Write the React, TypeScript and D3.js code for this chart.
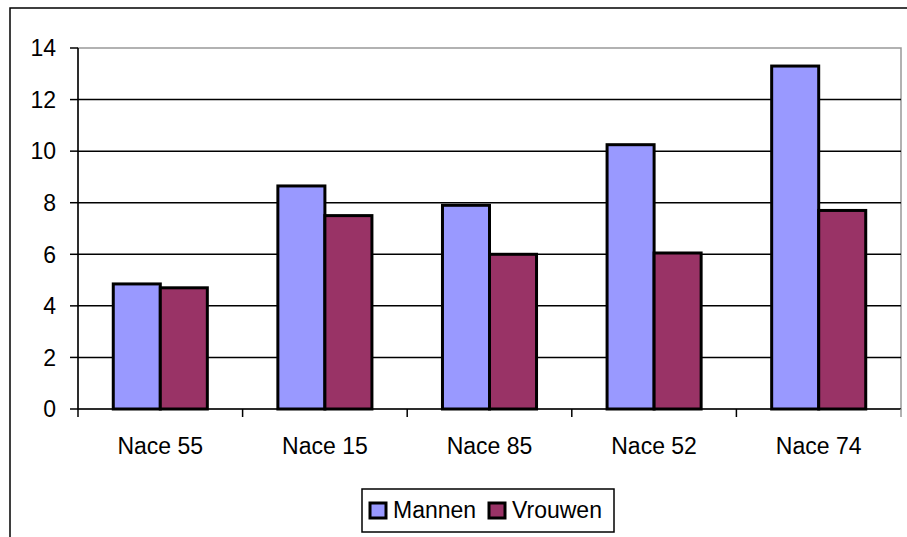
import { useRef, useEffect } from "react";
import * as d3 from "d3";

const categories = ["Nace 55", "Nace 15", "Nace 85", "Nace 52", "Nace 74"];
const seriesNames = ["Mannen", "Vrouwen"];
const mannen = [4.85, 8.65, 7.9, 10.25, 13.3];
const vrouwen = [4.7, 7.5, 6.0, 6.05, 7.7];
const yTicks = [0, 2, 4, 6, 8, 10, 12, 14];
const colors = ["#9999FF", "#993366"];

const W = 907;
const H = 537;
const FONT = "'Liberation Sans', Arial, sans-serif";

const App = () => {
  const svgRef = useRef<SVGSVGElement>(null);

  useEffect(() => {
    const svg = d3.select(svgRef.current);
    svg.selectAll("*").remove();

    const left = 78, right = 901, top = 48, bottom = 409;

    const x = d3.scaleBand().domain(categories).range([left, right]);
    // Excel style gap width 150% -> inner groups
    const bw = x.bandwidth() / 3.5;
    const y = d3.scaleLinear().domain([0, 14]).range([bottom, top]);

    // outer chart frame (runs off the picture)
    svg.append("rect")
      .attr("x", 10).attr("y", 8)
      .attr("width", W + 20).attr("height", H + 20)
      .attr("fill", "white").attr("stroke", "#000").attr("stroke-width", 1.5);

    // plot area border (grey)
    svg.append("rect")
      .attr("x", left).attr("y", top)
      .attr("width", right - left).attr("height", bottom - top)
      .attr("fill", "none").attr("stroke", "#999").attr("stroke-width", 1.5);

    // gridlines
    svg.selectAll(".grid")
      .data(yTicks.filter(d => d > 0 && d < 14))
      .join("line")
      .attr("class", "grid")
      .attr("x1", left).attr("x2", right)
      .attr("y1", d => y(d)).attr("y2", d => y(d))
      .attr("stroke", "#000").attr("stroke-width", 1.5);

    // bars
    const data = [mannen, vrouwen];
    data.forEach((vals, si) => {
      svg.selectAll(`.bar${si}`)
        .data(categories)
        .join("rect")
        .attr("class", `bar${si}`)
        .attr("x", c => (x(c) as number) + bw * 0.75 + si * bw)
        .attr("y", (_, i) => y(vals[i]))
        .attr("width", bw)
        .attr("height", (_, i) => y(0) - y(vals[i]))
        .attr("fill", colors[si])
        .attr("stroke", "#000")
        .attr("stroke-width", 3);
    });

    // y axis
    svg.append("line")
      .attr("x1", left).attr("x2", left).attr("y1", top).attr("y2", bottom)
      .attr("stroke", "#000").attr("stroke-width", 1.5);
    svg.selectAll(".ytick")
      .data(yTicks)
      .join("line")
      .attr("class", "ytick")
      .attr("x1", left - 8).attr("x2", left)
      .attr("y1", d => y(d)).attr("y2", d => y(d))
      .attr("stroke", "#000").attr("stroke-width", 1.5);
    svg.selectAll(".ylabel")
      .data(yTicks)
      .join("text")
      .attr("class", "ylabel")
      .attr("x", 56).attr("y", d => y(d))
      .attr("dy", "0.36em")
      .attr("text-anchor", "end")
      .attr("font-family", FONT).attr("font-size", 23)
      .attr("fill", "#000")
      .text(d => d);

    // x axis
    svg.append("line")
      .attr("x1", left).attr("x2", right).attr("y1", bottom).attr("y2", bottom)
      .attr("stroke", "#000").attr("stroke-width", 1.5);
    const bounds = [...categories.map(c => x(c) as number), right];
    svg.selectAll(".xtick")
      .data(bounds)
      .join("line")
      .attr("class", "xtick")
      .attr("x1", d => d).attr("x2", d => d)
      .attr("y1", bottom).attr("y2", bottom + 8)
      .attr("stroke", (_, i) => (i === bounds.length - 1 ? "#999" : "#000"))
      .attr("stroke-width", 1.5);
    svg.selectAll(".xlabel")
      .data(categories)
      .join("text")
      .attr("class", "xlabel")
      .attr("x", c => (x(c) as number) + x.bandwidth() / 2)
      .attr("y", 454)
      .attr("text-anchor", "middle")
      .attr("font-family", FONT).attr("font-size", 23)
      .attr("fill", "#000")
      .text(c => c);

    // legend
    const lg = svg.append("g");
    lg.append("rect")
      .attr("x", 362).attr("y", 489).attr("width", 252).attr("height", 43)
      .attr("fill", "white").attr("stroke", "#000").attr("stroke-width", 1.5);
    const items = [
      { sx: 370, tx: 393 },
      { sx: 489, tx: 512 },
    ];
    seriesNames.forEach((name, i) => {
      lg.append("rect")
        .attr("x", items[i].sx).attr("y", 503).attr("width", 16).attr("height", 15)
        .attr("fill", colors[i]).attr("stroke", "#000").attr("stroke-width", 3);
      lg.append("text")
        .attr("x", items[i].tx).attr("y", 518)
        .attr("font-family", FONT).attr("font-size", 23)
        .attr("fill", "#000")
        .text(name);
    });
  }, []);

  return (
    <svg
      ref={svgRef}
      width={W}
      height={H}
      style={{ position: "absolute", left: 0, top: 0, display: "block", background: "white" }}
    ></svg>
  );
};

export default App;
